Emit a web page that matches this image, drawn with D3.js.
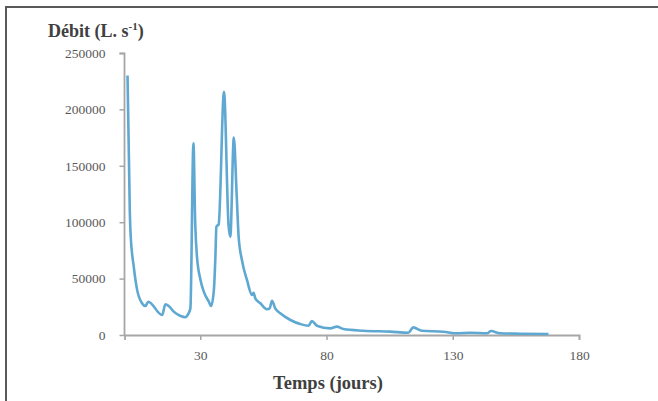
<!DOCTYPE html>
<html><head><meta charset="utf-8">
<script src="https://cdn.jsdelivr.net/npm/d3@7"></script>
<style>body{margin:0;background:#fff}svg{display:block}</style>
</head><body>
<svg id="c" width="658" height="401"></svg>
<script>
const days = [1.2,2.1,2.4,3.7,5.0,7.0,8.3,9.4,14.9,16.2,17.5,19.5,22.2,24.1,25.0,26.1,27.3,28.0,28.7,30.1,31.4,33.4,34.3,35.4,36.0,36.4,37.3,39.4,41.2,41.9,43.3,44.4,45.2,46.5,48.5,50.5,51.1,51.8,53.8,56.4,57.5,58.4,59.7,61.7,65.7,69.6,72.9,74.2,76.2,81.5,84.1,86.7,94.6,105.2,112.4,114.4,117.7,126.3,131.6,136.9,143.5,145.2,148.7,156.6,167.9];
const debit = [230000,110000,90000,60000,40000,28000,25700,29500,17700,27200,25700,20700,16800,15700,17700,23600,170000,99000,69400,48800,38400,29500,25700,40000,69400,96000,98100,215700,97500,87100,175000,125600,87100,66500,48800,35500,37500,32500,28100,22800,23600,30400,23600,19200,13300,9750,8250,12400,8250,5900,7400,5300,3800,2950,2050,6800,3800,2950,1500,2050,1500,3500,1500,1150,900];
const yTicks = [0,50000,100000,150000,200000,250000];
const xTicks = [30,80,130,180];

const svg = d3.select("#c");
svg.append("rect").attr("x",6).attr("y",7).attr("width",800).attr("height",600)
  .attr("fill","none").attr("stroke","#595959").attr("stroke-width",2);

const x = d3.scaleLinear().domain([0,180]).range([124.5,579]);
const y = d3.scaleLinear().domain([0,250000]).range([335,53]);
const serif = "'Liberation Serif', 'DejaVu Serif', serif";

const yAxis = svg.append("g").attr("transform","translate(124.5,0)")
  .call(d3.axisLeft(y).tickValues(yTicks).tickSize(5).tickPadding(14).tickFormat(d3.format("d")));
const xAxis = svg.append("g").attr("transform","translate(0,335)")
  .call(d3.axisBottom(x).tickValues(xTicks).tickSize(5).tickPadding(10).tickFormat(d3.format("d")));
[yAxis,xAxis].forEach(g=>{
  g.attr("font-family",serif).attr("font-size",13.5);
  g.select(".domain").attr("stroke","#a6a6a6").attr("stroke-width",1.8);
  g.selectAll(".tick line").attr("stroke","#a6a6a6").attr("stroke-width",1.5);
  g.selectAll(".tick text").attr("fill","#595959");
});
yAxis.select(".domain").attr("d","M-5,53.5H0V335");

const line = d3.line().x((d,i)=>x(days[i])).y(d=>y(d)).curve(d3.curveMonotoneX);
svg.append("path").datum(debit).attr("d",line).attr("fill","none")
  .attr("stroke","#5ea8d2").attr("stroke-width",2.6).attr("stroke-linejoin","round");

const t = svg.append("text").attr("x",48).attr("y",37).attr("fill","#404040")
  .style("font-family",serif).style("font-size","18px").style("font-weight","bold");
t.append("tspan").text("Débit (L. s");
t.append("tspan").attr("dy",-7).style("font-size","11px").text("-1");
t.append("tspan").attr("dy",7).text(")");

svg.append("text").attr("x",328).attr("y",389).attr("text-anchor","middle").attr("fill","#404040")
  .style("font-family",serif).style("font-size","18.5px").style("font-weight","bold").text("Temps (jours)");
</script>
</body></html>
